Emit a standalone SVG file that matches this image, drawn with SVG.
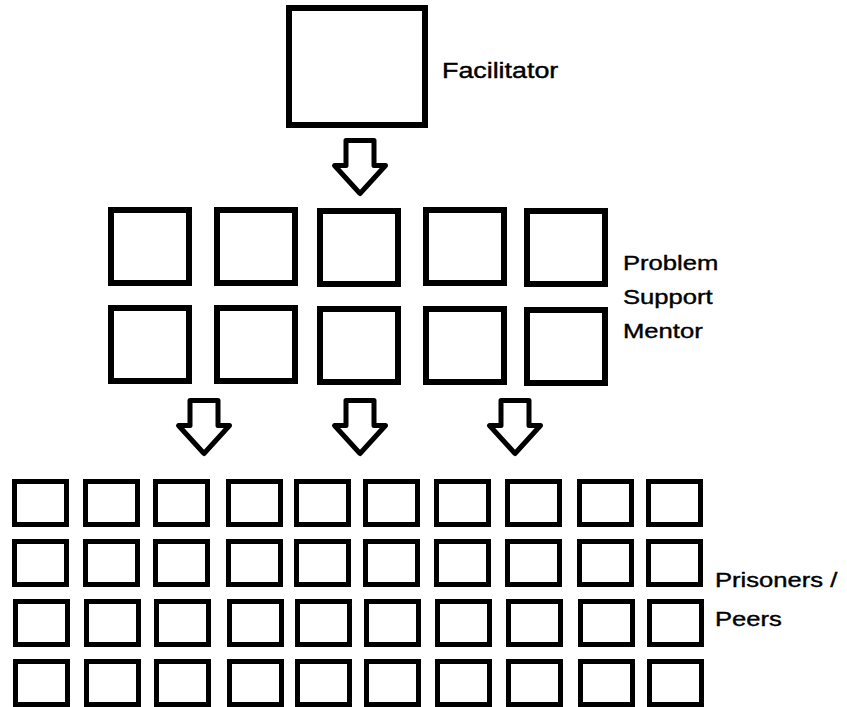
<svg xmlns="http://www.w3.org/2000/svg" xmlns:xlink="http://www.w3.org/1999/xlink" width="847" height="707" viewBox="0 0 847 707">
<defs>
<style>
.big{fill:#fff;stroke:#000;stroke-width:6}
.mid{fill:#fff;stroke:#000;stroke-width:6}
.sm{fill:#fff;stroke:#000;stroke-width:5}
.arrow{fill:#fff;stroke:#000;stroke-width:5;stroke-linejoin:round}
.lbl{font-family:"Liberation Sans",Arial,sans-serif;font-size:21px;fill:#000;stroke:#000;stroke-width:0.4}
</style>
<path id="arr" d="M -14,0 H 14 V 25 H 25.5 L 0,53 L -25.5,25 H -14 Z"/>
</defs>
<rect width="847" height="707" fill="#fff"/>

<g id="facilitator">
<rect class="big" x="289" y="8" width="136" height="117"/>
<text class="lbl" transform="translate(442,78) scale(1.22,1)" style="font-size:22px">Facilitator</text>
</g>

<g id="mentors">
<rect class="mid" x="111" y="210" width="78" height="73"/>
<rect class="mid" x="217" y="210" width="78" height="73"/>
<rect class="mid" x="320" y="211" width="78" height="73"/>
<rect class="mid" x="426" y="210" width="78" height="73"/>
<rect class="mid" x="527" y="211" width="78" height="73"/>
<rect class="mid" x="111" y="308" width="78" height="73"/>
<rect class="mid" x="217" y="308" width="78" height="73"/>
<rect class="mid" x="320" y="309" width="78" height="73"/>
<rect class="mid" x="426" y="309" width="78" height="73"/>
<rect class="mid" x="527" y="310" width="78" height="73"/>
<text class="lbl" transform="translate(623,270) scale(1.22,1)">Problem</text>
<text class="lbl" transform="translate(623,304) scale(1.22,1)">Support</text>
<text class="lbl" transform="translate(623,338) scale(1.22,1)">Mentor</text>
</g>

<g id="prisoners">
<g transform="translate(0,479)">
<rect class="sm" x="14.5" y="2.5" width="52" height="43"/>
<rect class="sm" x="85.5" y="2.5" width="52" height="43"/>
<rect class="sm" x="155.5" y="2.5" width="52" height="43"/>
<rect class="sm" x="228.5" y="2.5" width="52" height="43"/>
<rect class="sm" x="296.5" y="2.5" width="52" height="43"/>
<rect class="sm" x="365.5" y="2.5" width="52" height="43"/>
<rect class="sm" x="436.5" y="2.5" width="52" height="43"/>
<rect class="sm" x="507.5" y="2.5" width="52" height="43"/>
<rect class="sm" x="579.5" y="2.5" width="52" height="43"/>
<rect class="sm" x="648.5" y="2.5" width="52" height="43"/>
</g>
<g transform="translate(0,539)">
<rect class="sm" x="14.5" y="2.5" width="52" height="43"/>
<rect class="sm" x="85.5" y="2.5" width="52" height="43"/>
<rect class="sm" x="155.5" y="2.5" width="52" height="43"/>
<rect class="sm" x="228.5" y="2.5" width="52" height="43"/>
<rect class="sm" x="296.5" y="2.5" width="52" height="43"/>
<rect class="sm" x="365.5" y="2.5" width="52" height="43"/>
<rect class="sm" x="436.5" y="2.5" width="52" height="43"/>
<rect class="sm" x="507.5" y="2.5" width="52" height="43"/>
<rect class="sm" x="579.5" y="2.5" width="52" height="43"/>
<rect class="sm" x="648.5" y="2.5" width="52" height="43"/>
</g>
<g transform="translate(1,599)">
<rect class="sm" x="14.5" y="2.5" width="52" height="43"/>
<rect class="sm" x="85.5" y="2.5" width="52" height="43"/>
<rect class="sm" x="155.5" y="2.5" width="52" height="43"/>
<rect class="sm" x="228.5" y="2.5" width="52" height="43"/>
<rect class="sm" x="296.5" y="2.5" width="52" height="43"/>
<rect class="sm" x="365.5" y="2.5" width="52" height="43"/>
<rect class="sm" x="436.5" y="2.5" width="52" height="43"/>
<rect class="sm" x="507.5" y="2.5" width="52" height="43"/>
<rect class="sm" x="579.5" y="2.5" width="52" height="43"/>
<rect class="sm" x="648.5" y="2.5" width="52" height="43"/>
</g>
<g transform="translate(1,659)">
<rect class="sm" x="14.5" y="2.5" width="52" height="43"/>
<rect class="sm" x="85.5" y="2.5" width="52" height="43"/>
<rect class="sm" x="155.5" y="2.5" width="52" height="43"/>
<rect class="sm" x="228.5" y="2.5" width="52" height="43"/>
<rect class="sm" x="296.5" y="2.5" width="52" height="43"/>
<rect class="sm" x="365.5" y="2.5" width="52" height="43"/>
<rect class="sm" x="436.5" y="2.5" width="52" height="43"/>
<rect class="sm" x="507.5" y="2.5" width="52" height="43"/>
<rect class="sm" x="579.5" y="2.5" width="52" height="43"/>
<rect class="sm" x="648.5" y="2.5" width="52" height="43"/>
</g>
<text class="lbl" transform="translate(715,587) scale(1.22,1)">Prisoners /</text>
<text class="lbl" transform="translate(715,626) scale(1.22,1)">Peers</text>
</g>

<g id="connectors">
<use href="#arr" xlink:href="#arr" class="arrow" transform="translate(360,140.5)"/>
<use href="#arr" xlink:href="#arr" class="arrow" transform="translate(204,400.5)"/>
<use href="#arr" xlink:href="#arr" class="arrow" transform="translate(360,400.5)"/>
<use href="#arr" xlink:href="#arr" class="arrow" transform="translate(515,400.5)"/>
</g>
</svg>
